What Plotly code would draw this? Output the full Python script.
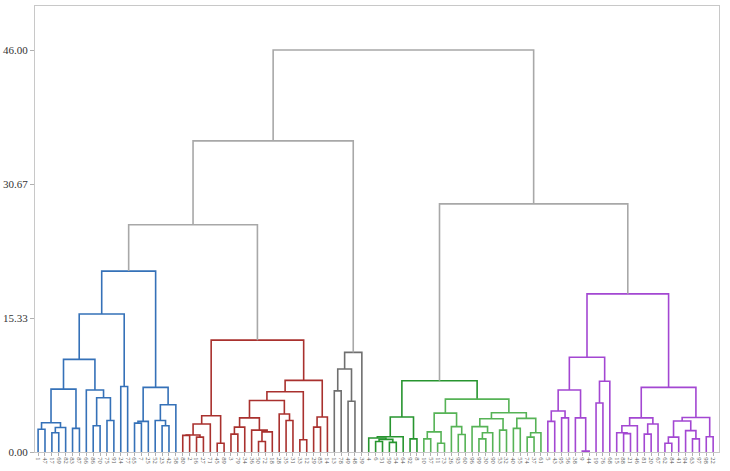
import plotly.graph_objects as go

# leaf labels of each cluster, left to right
blue_labels = [1, 47, 17, 69, 82, 83, 87, 66, 86, 70, 75, 91, 24, 77, 65, 7, 25, 52, 23, 42, 58]
red_labels = [80, 2, 16, 27, 71, 45, 89, 3, 79, 34, 36, 50, 72, 18, 28, 35, 31, 33, 12, 29, 85, 14]
gray_labels = [13, 78, 49, 48, 39]
green_labels = [4, 6, 51, 59, 54, 64, 92, 8, 10, 57, 11, 73, 26, 93, 60, 96, 99, 30, 90, 53,
                32, 40, 55, 74, 37, 61]
purple_labels = [5, 43, 95, 56, 38, 9, 44, 19, 76, 68, 15, 88, 21, 46, 81, 20, 67, 62, 84, 41,
                 94, 63, 97, 98, 22]

# cluster trees: a leaf is an index into the cluster's labels, a merge is [left, right, height]
blue_tree = [
    [[[[[0, 1, 2.6], [[2, 3, 2.2], 4, 2.8], 3.35], [5, 6, 2.7], 7.2],
      [7, [[8, 9, 3.0], [10, 11, 3.6], 6.2], 7.1], 10.6],
     [12, 13, 7.5], 15.8],
    [[[14, 15, 3.3], 16, 3.5], [[17, [18, 19, 3.0], 3.6], 20, 5.4], 7.4],
    20.7]
red_tree = [
    [[[[0, 1, 1.9], [2, 3, 1.7], 1.95], 4, 3.2], [5, 6, 1.0], 4.15],
    [[[[[[7, 8, 2.05], 9, 2.85], [10, [[11, 12, 1.2], 13, 2.3], 2.5], 3.9],
        [14, [15, 16, 3.6], 4.35], 5.9],
       [17, 18, 1.4], 6.9],
      [[19, 20, 2.85], 21, 4.0], 8.2],
    12.8]
gray_tree = [[[0, 1, 7.0], [2, 3, 5.8], 9.5], 4, 11.4]
green_left = [[[0, [[1, 2, 1.2], [3, 4, 1.1], 1.45], 1.6], 5, 1.75], [6, 7, 1.5], 4.0]
green_right = [
    [[[8, 9, 1.5], [10, 11, 1.0], 2.3], [12, [13, 14, 2.0], 2.9], 4.45],
    [[[15, [[16, 17, 1.5], 18, 2.2], 2.9], [19, 20, 2.5], 3.8],
     [[21, 22, 2.7], [[23, 24, 1.7], 25, 2.2], 3.85], 4.5],
    6.05]
green_height = 8.15
purple_tree = [
    [[[[0, 1, 3.5], [2, 3, 3.9], 4.7], [4, [5, 6, 0.1], 3.9], 7.1],
     [[7, 8, 5.6], 9, 8.1], 10.85],
    [[[[10, [11, 12, 2.1], 2.2], 13, 3.0], [[14, 15, 2.05], 16, 3.2], 3.9],
     [[[[17, 18, 1.0], 19, 1.7], [20, [21, 22, 1.5], 2.45], 3.55], [23, 24, 1.75], 3.95],
     7.4],
    18.1]

# heights of the links above the clusters
blue_red_height = 26.0
left_height = 35.6
right_height = 28.4
root_height = 46.0

y_ticks = [0.0, 15.33, 30.67, 46.0]

upper_color = '#a8a8a8'
colors = {
    'blue': '#3571b8', 'red': '#a9312e', 'gray': '#6f6f6f',
    'green': '#27952f', 'lightgreen': '#56b356', 'purple': '#a347d2',
}

green_tree = [green_left, green_right, green_height]
clusters = [
    ('blue', blue_tree, blue_labels),
    ('red', red_tree, red_labels),
    ('gray', gray_tree, gray_labels),
    ('green', green_tree, green_labels),
    ('purple', purple_tree, purple_labels),
]
override = {id(green_right): 'lightgreen'}
segs = {k: ([], []) for k in list(colors) + ['upper']}


def add_u(key, xl, yl, xr, yr, h):
    xs, ys = segs[key]
    xs += [xl, xl, xr, xr, None]
    ys += [yl, h, h, yr, None]


def walk(node, offset, key):
    if isinstance(node, int):
        return offset + node, 0.0
    key = override.get(id(node), key)
    xl, yl = walk(node[0], offset, key)
    xr, yr = walk(node[1], offset, key)
    add_u(key, xl, yl, xr, yr, node[2])
    return (xl + xr) / 2, node[2]


tops = {}
offset = 0
all_labels = []
for key, tree, labels in clusters:
    tops[key] = walk(tree, offset, key)
    offset += len(labels)
    all_labels += [str(v) for v in labels]

# links joining the clusters
bx, by = tops['blue']
rx, ry = tops['red']
add_u('upper', bx, by, rx, ry, blue_red_height)
lx = (bx + rx) / 2
gx, gy = tops['gray']
add_u('upper', lx, blue_red_height, gx, gy, left_height)
left_x = (lx + gx) / 2
nx, ny = tops['green']
px, py = tops['purple']
add_u('upper', nx, ny, px, py, right_height)
right_x = (nx + px) / 2
add_u('upper', left_x, left_height, right_x, right_height, root_height)

fig = go.Figure()
for key, (xs, ys) in segs.items():
    fig.add_trace(go.Scatter(
        x=xs, y=ys, mode='lines', hoverinfo='skip',
        line=dict(color=upper_color if key == 'upper' else colors[key], width=1.6),
    ))

n = len(all_labels)
fig.update_layout(
    width=730, height=471,
    showlegend=False,
    plot_bgcolor='white',
    paper_bgcolor='white',
    margin=dict(l=35, r=11, t=6, b=19),
    xaxis=dict(
        range=[-0.45, n - 1 + 0.85],
        tickmode='array', tickvals=list(range(n)), ticktext=all_labels,
        tickangle=90, tickfont=dict(family='Liberation Serif', size=6.5, color='#555555'),
        ticks='outside', ticklen=3, tickcolor='#b0b0b0',
        showgrid=False, zeroline=False, automargin=False,
        showline=True, linecolor='#c8c8c8', mirror=True,
    ),
    yaxis=dict(
        range=[0, 51.04],
        tickmode='array', tickvals=y_ticks, ticktext=['%.2f' % v for v in y_ticks],
        tickfont=dict(family='Liberation Serif', size=11, color='#333333'),
        ticks='outside', ticklen=4, tickcolor='#b0b0b0',
        showgrid=False, zeroline=False, automargin=False,
        showline=True, linecolor='#c8c8c8', mirror=True,
    ),
)

# drop the page's default body margin so the figure sits at the window's corner
fig.write_html("out.html", config={'displayModeBar': False},
               post_script="document.body.style.margin = '0';")
